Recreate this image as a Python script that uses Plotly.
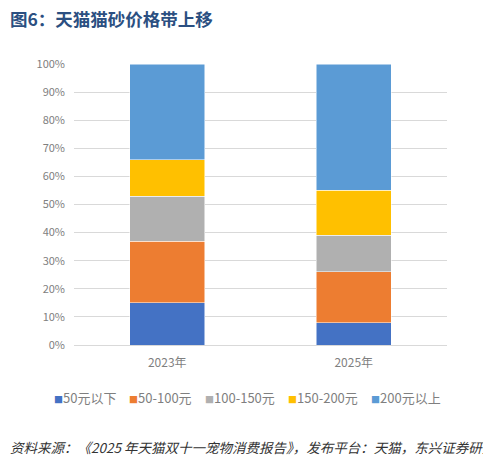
import plotly.graph_objects as go

years = ['2023年', '2025年']
bands = ['50元以下', '50-100元', '100-150元', '150-200元', '200元以上']
share_2023 = [15, 22, 16, 13, 34]
share_2025 = [8, 18, 13, 16, 45]
colors = ['#4472C4', '#ED7D31', '#B0B0B0', '#FFC000', '#5B9BD5']

# the page body adds 8px, so figure px = screen px - 8
# plot area in figure px: left 66, width 373, top 56, bottom 337
pl, pw = 66, 373
legend_px = [44, 119, 195, 278, 361]

fig = go.Figure()
for i in range(len(bands)):
    fig.add_trace(go.Bar(x = years, y = [share_2023[i], share_2025[i]], name = bands[i],
                         marker = dict(color = colors[i], line = dict(color = 'white', width = 0.5)),
                         width = 0.4, showlegend = False))

fig.update_layout(
    barmode = 'stack',
    width = 491, height = 473,
    margin = dict(l = 66, r = 52, t = 56, b = 136),
    paper_bgcolor = 'white', plot_bgcolor = 'white',
    font = dict(family = 'Noto Sans CJK SC, DejaVu Sans', color = '#7F7F7F', size = 12),
    title = dict(text = '<b>图6：天猫猫砂价格带上移</b>', x = 0.004, xanchor = 'left',
                 y = 0.975, yanchor = 'middle', font = dict(size = 17.5, color = '#2B4F81')),
)
fig.update_yaxes(range = [0, 100], dtick = 10, ticksuffix = '%', showgrid = True,
                 gridcolor = '#D9D9D9', gridwidth = 1, zeroline = False,
                 tickfont = dict(size = 11, color = '#808080'), ticks = '', showline = False,
                 ticklabelstandoff = 8)
fig.update_xaxes(showline = True, linecolor = '#D9D9D9', linewidth = 1,
                 tickfont = dict(size = 12, color = '#7F7F7F'), ticklabelstandoff = 7)

# legend drawn as text so it sits on one tight row like the original
for i in range(len(bands)):
    fig.add_annotation(text = '<span style="font-size:9px;color:%s">■</span>%s' % (colors[i], bands[i]),
                       xref = 'paper', yref = 'paper', x = (legend_px[i] - pl) / pw, y = -0.187,
                       xanchor = 'left', yanchor = 'middle', showarrow = False,
                       font = dict(size = 13, color = '#7F7F7F'))

fig.add_annotation(text = '<i>资料来源：《2025 年天猫双十一宠物消费报告》，发布平台：天猫，东兴证券研究所</i>',
                   xref = 'paper', yref = 'paper', x = (0 - pl) / pw, y = -0.363,
                   xanchor = 'left', yanchor = 'middle', showarrow = False,
                   font = dict(size = 13.5, color = '#333333'))
fig.write_html('out.html')
